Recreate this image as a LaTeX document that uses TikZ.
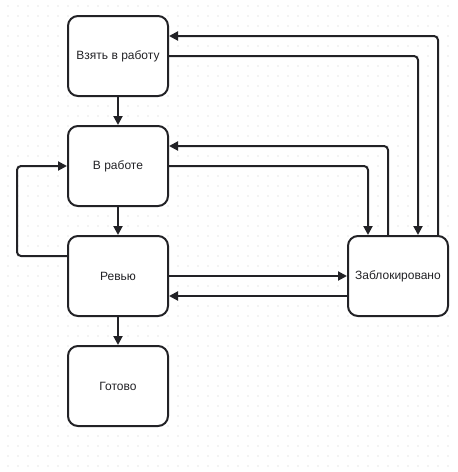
\documentclass[tikz,border=0pt]{standalone}
\usepackage{fontspec}
\setmainfont{Liberation Sans}
\definecolor{fgdark}{RGB}{34,34,38}
\definecolor{griddot}{RGB}{205,205,205}
\usetikzlibrary{arrows.meta,calc}

\begin{document}
\begin{tikzpicture}[
  x=1pt, y=-1pt,
  stbox/.style={draw=fgdark, fill=white, line width=2pt, rounded corners=10pt, minimum width=100pt, minimum height=80pt, align=center, font=\fontsize{12pt}{14pt}\selectfont, text=fgdark},
  flow/.style={draw=fgdark, line width=2pt, rounded corners=4pt, -{Triangle[length=9pt,width=9pt]}}
]
  \useasboundingbox[fill=white] (0,0) rectangle (458,472);

  %% Background grid
  \foreach \gx in {8,18,...,448} {
    \foreach \gy in {6,16,...,466} {
      \fill[griddot] (\gx,\gy) circle (0.6pt);
    }
  }

  %% States
  \node[stbox] (take)    at (118,56)  {Взять в работу};
  \node[stbox] (work)    at (118,166) {В работе};
  \node[stbox] (review)  at (118,276) {Ревью};
  \node[stbox] (done)    at (118,386) {Готово};
  \node[stbox] (blocked) at (398,276) {Заблокировано};

  %% Main line
  \draw[flow] (take) -- (work);
  \draw[flow] (work) -- (review);
  \draw[flow] (review) -- (done);

  %% Back to work
  \draw[flow] ([yshift=20pt]review.west) -- ++(-50,0) |- (work.west);

  %% To and from blocked
  \draw[flow] (work.east) -| ([xshift=-30pt]blocked.north);
  \draw[flow] ([xshift=-10pt]blocked.north) |- ([yshift=20pt]work.east);
  \draw[flow] (take.east) -| ([xshift=20pt]blocked.north);
  \draw[flow] ([xshift=40pt]blocked.north) |- ([yshift=20pt]take.east);
  \draw[flow] (review.east) -- (blocked.west);
  \draw[flow] ([yshift=-20pt]blocked.west) -- ([yshift=-20pt]review.east);
\end{tikzpicture}
\end{document}
